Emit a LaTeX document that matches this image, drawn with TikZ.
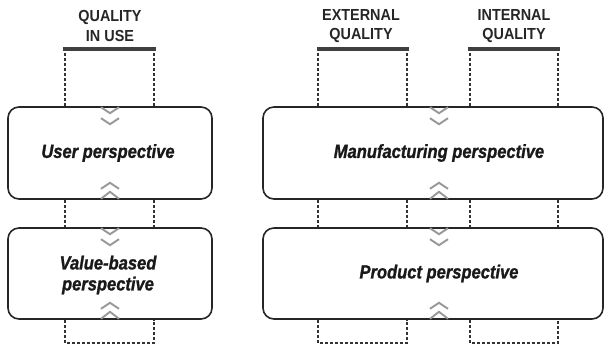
\documentclass[tikz,border=0pt]{standalone}
\usepackage{fontspec}
\setmainfont{Liberation Sans}
\newfontfamily\headfont{Liberation Sans}[FakeStretch=0.9]
\newfontfamily\perspfont{Liberation Sans}[FakeStretch=0.87,BoldItalicFeatures={FakeBold=1.2}]
\usetikzlibrary{positioning}

\begin{document}
\begin{tikzpicture}[
x=1pt,y=-1pt,
box/.style={
draw=black!85,
line width=1.6pt,
rounded corners=11pt
},
persp/.style={
font=\perspfont\bfseries\itshape\fontsize{19}{21}\selectfont,
align=center,
text=black!90
},
head/.style={
font=\headfont\bfseries\fontsize{16}{19.5}\selectfont,
align=center,
text=black!85
},
bar/.style={line width=4pt,black!75},
lane/.style={line width=1.4pt,black!80,dash pattern=on 3pt off 2pt},
chev/.style={line width=1.9pt,black!40},
chevdown/.pic={
\draw[chev] (-9,1)--(0,7)--(9,1) (-9,12)--(0,18)--(9,12);
},
chevup/.pic={
\draw[chev] (-9,-11)--(0,-17)--(9,-11) (-9,-1)--(0,-8)--(9,-1);
}
]
\useasboundingbox (0,0) rectangle (605,347);

% headings over the lanes
\node[head] (usehead) at (110,26) {QUALITY\\IN USE};
\node[head] (exthead) at (361,26) {EXTERNAL\\QUALITY};
\node[head] (inthead) at (514,26) {INTERNAL\\QUALITY};

\draw[bar] (63,49) coordinate (usel) -- (156,49) coordinate (user);
\draw[bar] (317,49) coordinate (extl) -- (409,49) coordinate (extr);
\draw[bar] (468,49) coordinate (intl) -- (560,49) coordinate (intr);

% the four perspectives
\node[box,minimum width=204pt,minimum height=92pt] (userbox) at (110,153) {};
\node[box,minimum width=204pt,minimum height=91pt] (valuebox) at (110,273.5) {};
\node[box,minimum width=340pt,minimum height=92pt] (manufbox) at (433,153) {};
\node[box,minimum width=340pt,minimum height=91pt] (productbox) at (433,273.5) {};

\node[persp] (usertext) at (108,153) {User perspective};
\node[persp] (valuetext) at (108,275) {Value-based\\perspective};
\node[persp] (manuftext) at (439,153) {Manufacturing perspective};
\node[persp] (producttext) at (439,273.5) {Product perspective};

% dotted lanes running through the boxes
\foreach \x in {65,154,318,407,470,558} {
\draw[lane] (\x,53) -- (\x,0 |- userbox.north);
\draw[lane] (\x,0 |- userbox.south) -- (\x,0 |- valuebox.north);
}
\foreach \a/\b in {65/154,318/407,470/558} {
\draw[lane] (\a,0 |- valuebox.south) -- (\a,343) -- (\b,343) -- (\b,0 |- valuebox.south);
}

% chevrons
\pic at (userbox.north) {chevdown};
\pic at (userbox.south) {chevup};
\pic at (valuebox.north) {chevdown};
\pic at (valuebox.south) {chevup};
\pic at (439,0 |- manufbox.north) {chevdown};
\pic at (439,0 |- manufbox.south) {chevup};
\pic at (439,0 |- productbox.north) {chevdown};
\pic at (439,0 |- productbox.south) {chevup};

\end{tikzpicture}
\end{document}
